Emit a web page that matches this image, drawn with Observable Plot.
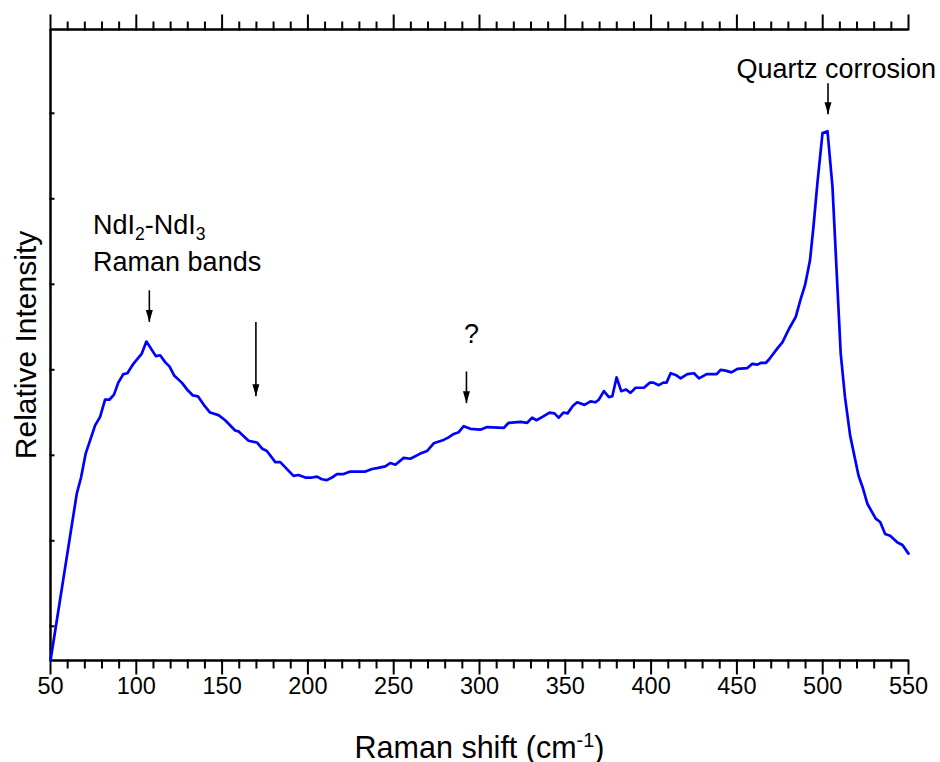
<!DOCTYPE html>
<html>
<head>
<meta charset="utf-8">
<script src="https://cdn.jsdelivr.net/npm/d3@7"></script>
<script src="https://cdn.jsdelivr.net/npm/@observablehq/plot@0.6"></script>
<style>
  body { margin: 0; background: #fff; }
  #chart svg { display: block; }
</style>
</head>
<body>
<div id="chart"></div>
<script>
// Raman spectrum: shift (cm-1) and relative intensity (arbitrary units)
const shift = [
  50.0, 65.3, 67.8, 70.5, 76.0, 78.9, 81.8, 84.3, 87.0, 89.5,
  92.5, 94.8, 98.3, 103.2, 105.9, 111.4, 113.9, 116.8, 119.3, 122.2,
  126.5, 130.0, 133.0, 135.9, 139.7, 143.0, 147.9, 151.8, 157.6, 159.5,
  165.4, 170.3, 173.2, 176.1, 181.0, 183.9, 191.6, 194.5, 198.5, 202.4,
  205.3, 208.2, 211.1, 214.0, 216.9, 220.8, 224.7, 229.5, 233.5, 237.4,
  240.3, 245.1, 248.0, 251.0, 255.8, 259.7, 265.5, 269.4, 273.3, 279.1,
  282.0, 285.0, 287.9, 290.8, 294.7, 300.5, 304.4, 314.1, 317.0, 323.9,
  327.8, 330.7, 333.2, 336.7, 340.8, 343.7, 346.2, 348.9, 351.3, 354.5,
  356.9, 361.2, 364.7, 367.6, 369.5, 372.5, 375.4, 377.4, 379.9, 382.6,
  385.4, 388.0, 391.0, 395.8, 399.3, 401.3, 404.5, 407.1, 409.0, 411.4,
  414.3, 417.2, 421.1, 425.0, 427.9, 432.4, 438.2, 440.5, 443.4, 446.8,
  450.3, 456.1, 459.0, 461.9, 463.9, 466.8, 468.7, 473.6, 476.5, 480.4,
  484.3, 487.2, 489.7, 492.6, 494.6, 496.9, 499.9, 502.8, 505.7, 508.2,
  510.5, 513.0, 516.0, 520.9, 523.2, 526.1, 530.9, 533.5, 536.4, 539.3,
  543.6, 546.5, 550.0
];
const intensity = [
  0.60, 2.55, 2.74, 3.02, 3.35, 3.45, 3.65, 3.65, 3.71, 3.85,
  3.95, 3.96, 4.07, 4.19, 4.33, 4.16, 4.17, 4.09, 4.04, 3.93,
  3.85, 3.76, 3.70, 3.69, 3.58, 3.50, 3.47, 3.41, 3.29, 3.28,
  3.17, 3.15, 3.08, 3.05, 2.92, 2.92, 2.76, 2.77, 2.74, 2.74,
  2.75, 2.72, 2.71, 2.74, 2.78, 2.78, 2.81, 2.81, 2.81, 2.84,
  2.85, 2.87, 2.91, 2.89, 2.97, 2.96, 3.02, 3.05, 3.14, 3.18,
  3.21, 3.25, 3.27, 3.34, 3.31, 3.30, 3.33, 3.32, 3.38, 3.39,
  3.38, 3.44, 3.41, 3.45, 3.50, 3.49, 3.44, 3.50, 3.49, 3.58,
  3.62, 3.59, 3.63, 3.62, 3.65, 3.75, 3.68, 3.69, 3.91, 3.75,
  3.77, 3.73, 3.79, 3.79, 3.85, 3.85, 3.82, 3.85, 3.85, 3.96,
  3.94, 3.90, 3.95, 3.96, 3.90, 3.95, 3.95, 4.00, 3.99, 3.97,
  4.01, 4.02, 4.07, 4.06, 4.08, 4.08, 4.12, 4.25, 4.32, 4.48,
  4.62, 4.83, 4.99, 5.28, 5.67, 6.18, 6.77, 6.79, 6.14, 5.12,
  4.19, 3.68, 3.23, 2.76, 2.63, 2.43, 2.26, 2.22, 2.08, 2.06,
  1.98, 1.95, 1.85
];

// Scale extents and axis ticks
const xDomain = [50, 550];
const yDomain = [0.6, 7.98];
const xMajorTicks = [50, 100, 150, 200, 250, 300, 350, 400, 450, 500, 550];
const xMinorTicks = d3.range(60, 550, 10).filter(v => v % 50 !== 0);
const yTicks = [1, 2, 3, 4, 5, 6, 7];

// Annotation arrows (x, start, tip) and labels
const arrowX = [107.6, 169.7, 292.4, 503.1];
const arrowTop = [4.93, 4.56, 3.98, 7.35];
const arrowTip = [4.56, 3.69, 3.61, 6.99];
const labelText = ["NdI2-NdI3", "Raman bands", "?", "Quartz corrosion"];
const labelX = [74.8, 74.8, 295.3, 507.9];
const labelY = [5.59, 5.15, 4.31, 7.41];
const labelAnchor = ["start", "start", "middle", "middle"];

const arrows = arrowX.map((x, i) => ({x, y1: arrowTop[i], y2: arrowTip[i]}));
const labels = labelText.map((text, i) => ({text, x: labelX[i], y: labelY[i], anchor: labelAnchor[i]}));

// Narrow filled arrow head with its point at the origin
const arrowHead = {
  draw(ctx) {
    ctx.moveTo(0, 0);
    ctx.lineTo(-3.5, -12);
    ctx.lineTo(3.5, -12);
    ctx.closePath();
  }
};

// Tick glyphs: a straight segment from the origin
const segment = (dx, dy) => ({
  draw(ctx) {
    ctx.moveTo(0, 0);
    ctx.lineTo(dx, dy);
  }
});

const font = "'Liberation Sans', Arial, Helvetica, sans-serif";
const axisStyle = {stroke: "#000", strokeWidth: 2, fill: "none", strokeLinecap: "square"};

const chart = Plot.plot({
  width: 940,
  height: 762,
  marginLeft: 50,
  marginRight: 32,
  marginTop: 29,
  marginBottom: 102,
  style: {fontFamily: font, fontSize: "23.5px", background: "#fff", color: "#000"},
  x: {domain: xDomain, axis: null},
  y: {domain: yDomain, axis: null},
  marks: [
    // frame: bottom, top and left lines
    Plot.ruleY([yDomain[0]], {stroke: "#000", strokeWidth: 2.5}),
    Plot.ruleY([yDomain[1]], {stroke: "#000", strokeWidth: 2.5}),
    Plot.ruleX([xDomain[0]], {stroke: "#000", strokeWidth: 2.5}),
    // bottom ticks (outward) and labels
    Plot.dot(xMajorTicks, {x: d => d, frameAnchor: "bottom", symbol: segment(0, 13), ...axisStyle}),
    Plot.dot(xMinorTicks, {x: d => d, frameAnchor: "bottom", symbol: segment(0, 7), ...axisStyle}),
    Plot.text(xMajorTicks, {x: d => d, frameAnchor: "bottom", dy: 33, text: d => String(d),
      fontSize: 23.5, fill: "#000"}),
    // top ticks (outward)
    Plot.dot(xMajorTicks, {x: d => d, frameAnchor: "top", symbol: segment(0, -14), ...axisStyle}),
    Plot.dot(xMinorTicks, {x: d => d, frameAnchor: "top", symbol: segment(0, -7), ...axisStyle}),
    // left ticks (inward, unlabeled)
    Plot.dot(yTicks, {y: d => d, frameAnchor: "left", symbol: segment(3, 0), ...axisStyle}),
    // spectrum
    Plot.line(intensity, {x: shift, y: intensity, stroke: "#0000ff", strokeWidth: 2.7,
      strokeLinejoin: "round"}),
    // annotation arrows
    Plot.link(arrows, {x1: "x", x2: "x", y1: "y1", y2: "y2", stroke: "#000", strokeWidth: 1.6}),
    Plot.dot(arrows, {x: "x", y: "y2", symbol: arrowHead, fill: "#000", stroke: null}),
    // annotation labels
    Plot.text(labels.filter(d => d.anchor === "start"), {x: "x", y: "y", text: "text",
      textAnchor: "start", lineAnchor: "bottom", fontSize: 27, fill: "#000"}),
    Plot.text(labels.filter(d => d.anchor === "middle"), {x: "x", y: "y", text: "text",
      textAnchor: "middle", lineAnchor: "bottom", fontSize: 27, fill: "#000"}),
    // axis titles
    Plot.text(["Raman shift (cm-1)"], {frameAnchor: "bottom", dy: 97, lineAnchor: "bottom",
      textAnchor: "middle", fontSize: 30.5, fill: "#000"}),
    Plot.text(["Relative Intensity"], {frameAnchor: "left", dx: -24, rotate: -90,
      textAnchor: "middle", fontSize: 30, fill: "#000"})
  ]
});

document.getElementById("chart").appendChild(chart);

// Typeset sub- and superscripts inside the SVG text elements
function typeset(el, parts) {
  el.textContent = "";
  let shiftEm = 0;
  for (const [str, kind] of parts) {
    const ts = document.createElementNS("http://www.w3.org/2000/svg", "tspan");
    const target = kind === "sub" ? 0.35 : kind === "sup" ? -0.55 : 0;
    const dyEm = target - shiftEm;
    if (dyEm !== 0) ts.setAttribute("dy", `${dyEm * (kind ? 1 : 0.65)}em`);
    if (kind) ts.setAttribute("font-size", "65%");
    ts.textContent = str;
    el.appendChild(ts);
    shiftEm = target;
  }
}
for (const t of chart.querySelectorAll("text")) {
  if (t.textContent === "NdI2-NdI3") {
    typeset(t, [["NdI"], ["2", "sub"], ["-NdI"], ["3", "sub"]]);
  } else if (t.textContent === "Raman shift (cm-1)") {
    typeset(t, [["Raman shift (cm"], ["-1", "sup"], [")"]]);
  }
}
</script>
</body>
</html>
